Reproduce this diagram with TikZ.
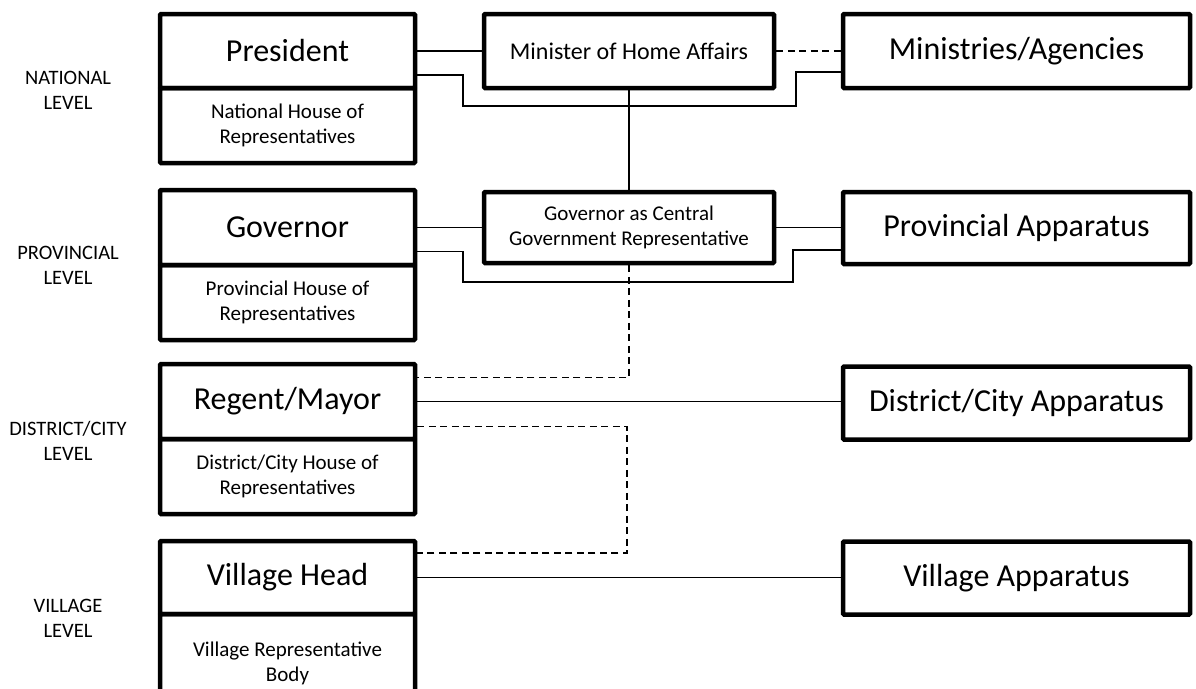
\documentclass[tikz,border=0pt]{standalone}
\usepackage{fontspec}
\setmainfont{Carlito}
\begin{document}
\begin{tikzpicture}[x=1pt,y=-1pt,
  box/.style={draw, line width=4.5pt, rounded corners=1pt, inner sep=0pt, align=center},
  lcol/.style={box, minimum width=255pt},
  mcol/.style={box, minimum width=290pt},
  rcol/.style={box, minimum width=347pt},
  big/.style={font=\fontsize{32}{38}\selectfont},
  small/.style={font=\fontsize{21}{25}\selectfont},
  mid/.style={font=\fontsize{24}{28}\selectfont},
  conn/.style={line width=1.8pt},
  dconn/.style={line width=1.8pt, dash pattern=on 7pt off 4.5pt},
  lbl/.style={align=center, font=\fontsize{20.5}{25}\selectfont}]
\clip (0,0) rectangle (1196,688);
% level labels
\node[lbl] (lnat) at (68,90) {NATIONAL\\LEVEL};
\node[lbl] (lprov) at (68,265) {PROVINCIAL\\LEVEL};
\node[lbl] (ldist) at (68,441) {DISTRICT/CITY\\LEVEL};
\node[lbl] (lvil) at (68,618) {VILLAGE\\LEVEL};
% left column
\node[lcol, big, minimum height=74pt] (pres) at (287.5,51) {President};
\node[lcol, small, minimum height=75pt] (nhr) at (287.5,125.5) {National House of\\Representatives};
\node[lcol, big, minimum height=75pt] (gov) at (287.5,227.5) {Governor};
\node[lcol, small, minimum height=75pt] (phr) at (287.5,302.5) {Provincial House of\\Representatives};
\node[lcol, big, minimum height=75pt] (reg) at (287.5,401.5) {Regent/Mayor};
\node[lcol, small, minimum height=75pt] (dhr) at (287.5,476.5) {District/City House of\\Representatives};
\node[lcol, big, minimum height=73pt] (vh) at (287.5,577.5) {Village Head};
\node[lcol, small, minimum height=98pt] (vrb) at (287.5,663) {Village Representative\\Body};
% middle column
\node[mcol, mid, minimum height=74pt] (min) at (629,51) {Minister of Home Affairs};
\node[mcol, small, minimum height=71pt] (gcgr) at (629,227.5) {Governor as Central\\Government Representative};
% right column
\node[rcol, big, minimum height=74pt] (mina) at (1016.5,51) {Ministries/Agencies};
\node[rcol, big, minimum height=72pt] (pa) at (1016.5,228) {Provincial Apparatus};
\node[rcol, big, minimum height=73pt] (dca) at (1016.5,403) {District/City Apparatus};
\node[rcol, big, minimum height=73pt] (va) at (1016.5,578) {Village Apparatus};
% waypoints
\coordinate (n1) at (463,106);
\coordinate (n2) at (796,106);
\coordinate (p1) at (463,282);
\coordinate (p2) at (793,282);
\coordinate (d1) at (627,553);
% connectors
\draw[conn] (pres) -- (min);
\draw[dconn] (min) -- (mina);
\draw[conn] ([yshift=-24pt]pres.east) -| (n1) -- (n2) |- ([yshift=-21pt]mina.west);
\draw[conn] (min) -- (gcgr);
\draw[conn] (gov.east) -- (gov.east -| gcgr.west);
\draw[conn] (gcgr.east) -- (gcgr.east -| pa.west);
\draw[conn] ([yshift=-24pt]gov.east) -| (p1) -- (p2) |- ([yshift=-22pt]pa.west);
\draw[dconn] (gcgr.south) |- ([yshift=24pt]reg.east);
\draw[conn] (reg.east) -- (reg.east -| dca.west);
\draw[dconn] ([yshift=-25pt]reg.east) -| (d1) -- (d1 -| vh.east);
\draw[conn] (vh.east) -- (vh.east -| va.west);
\end{tikzpicture}
\end{document}
